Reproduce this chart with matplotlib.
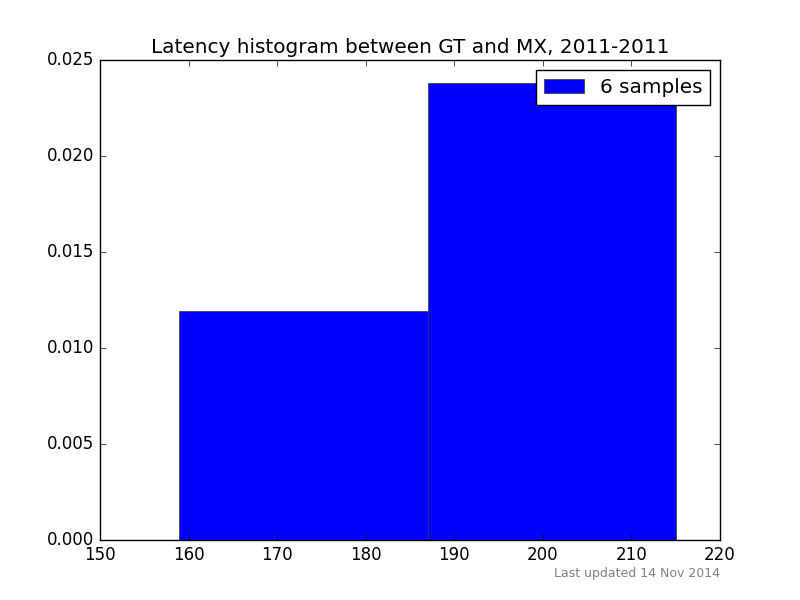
import matplotlib
matplotlib.use('Agg')
import matplotlib.pyplot as plt

# histogram bins (latency in ms) and normalised counts
bin_edges = [158.9, 187.0, 215.0]
density = [0.01193, 0.02381]
n_samples = 6

title = 'Latency histogram between GT and MX, 2011-2011'
footnote = 'Last updated 14 Nov 2014'

plt.style.use('classic')

fig = plt.figure(figsize=(8, 6), dpi=100)
ax = fig.add_axes([0.125, 0.1, 0.775, 0.8])

lefts = bin_edges[:-1]
widths = [b - a for a, b in zip(bin_edges[:-1], bin_edges[1:])]
ax.bar(lefts, density, width=widths, align='edge', color='blue',
       edgecolor='#333333', linewidth=0.5, label='%d samples' % n_samples)

ax.set_xlim(150, 220)
ax.set_ylim(0, 0.025)
ax.set_title(title)
ax.legend(loc='upper right')

fig.text(0.9, 0.045, footnote, ha='right', va='center', fontsize=9, color='gray')

plt.savefig('out.png', dpi=100)
